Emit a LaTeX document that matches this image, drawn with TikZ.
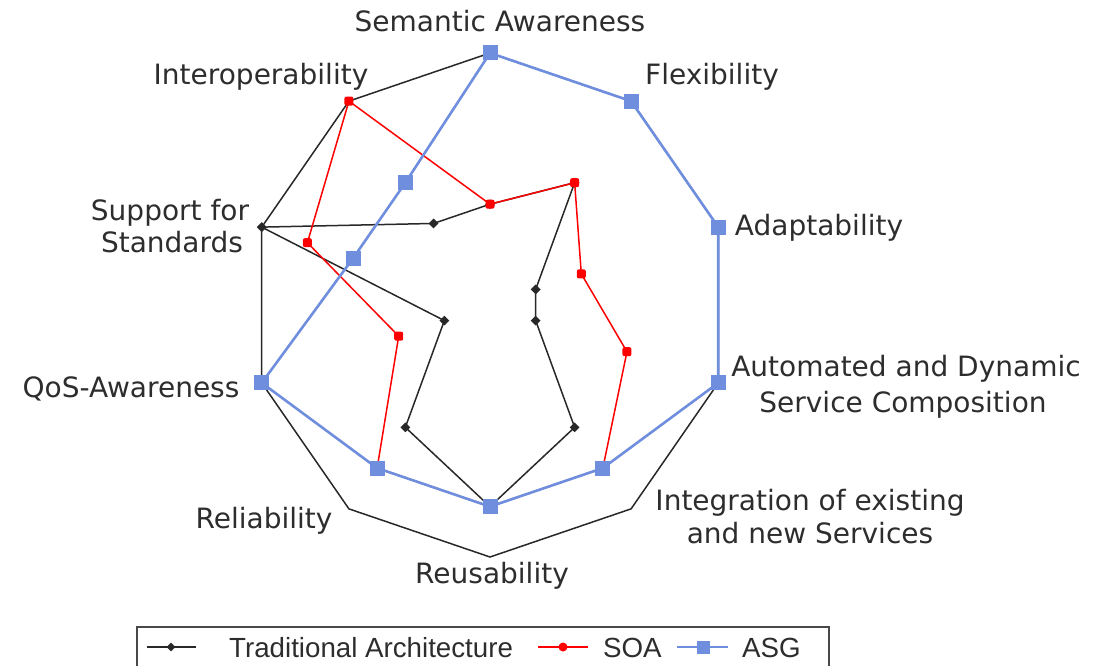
\documentclass[tikz,border=0pt]{standalone}
\usepackage{fontspec}
\setmainfont{DejaVu Sans}
\newfontfamily\legfont{Liberation Sans}
\usetikzlibrary{shapes.geometric}
\definecolor{txt}{RGB}{45,45,45}
\definecolor{asgblue}{RGB}{112,142,222}
\definecolor{soared}{RGB}{255,0,0}
\definecolor{trgray}{RGB}{40,40,40}
\begin{document}
\begin{tikzpicture}[x=1pt,y=-1pt,
 lab/.style={font=\fontsize{28}{34}\selectfont, text=txt, anchor=base, inner sep=0pt},
 leg/.style={font=\legfont\fontsize{27.7}{33}\selectfont, text=txt, anchor=base west, inner sep=0pt},
 frame/.style={draw=trgray, line width=1.5pt, line join=miter},
 trline/.style={draw=trgray, line width=1.5pt},
 soaline/.style={draw=soared, line width=1.5pt},
 asgline/.style={draw=asgblue, line width=2.6pt},
 trmark/.style={diamond, fill=trgray, inner sep=0pt, minimum width=10pt, minimum height=10pt},
 soamark/.style={rectangle, rounded corners=2pt, fill=soared, inner sep=0pt, minimum size=9pt},
 asgmark/.style={rectangle, fill=asgblue, inner sep=0pt, minimum size=15pt},
]
\useasboundingbox (0,0) rectangle (1097,666);
\def\cx{490}\def\cy{305}
% outer frame vertices
\foreach \k in {0,...,9}{
  \coordinate (F\k) at ({\cx+240*cos(90-36*\k)},{\cy-252*sin(90-36*\k)});
}
% series
\foreach \v [count=\k from 0] in {.4,.6,.2,.2,.6,.8,.6,.2,1,.4}{
  \coordinate (T\k) at ({\cx+\v*240*cos(90-36*\k)},{\cy-\v*252*sin(90-36*\k)});
}
\foreach \v [count=\k from 0] in {.4,.6,.4,.6,.8,.8,.8,.4,.8,1}{
  \coordinate (S\k) at ({\cx+\v*240*cos(90-36*\k)},{\cy-\v*252*sin(90-36*\k)});
}
\foreach \v [count=\k from 0] in {1,1,1,1,.8,.8,.8,1,.6,.6}{
  \coordinate (A\k) at ({\cx+\v*240*cos(90-36*\k)},{\cy-\v*252*sin(90-36*\k)});
}
\draw[frame] (F0) -- (F1) -- (F2) -- (F3) -- (F4) -- (F5) -- (F6) -- (F7) -- (F8) -- (F9) -- cycle;
\draw[trline] (T0) -- (T1) -- (T2) -- (T3) -- (T4) -- (T5) -- (T6) -- (T7) -- (T8) -- (T9) -- cycle;
\foreach \k in {0,...,9}{ \node[trmark] (TM\k) at (T\k) {}; }
\draw[soaline] (S0) -- (S1) -- (S2) -- (S3) -- (S4) -- (S5) -- (S6) -- (S7) -- (S8) -- (S9) -- cycle;
\foreach \k in {0,...,9}{ \node[soamark] (SM\k) at (S\k) {}; }
\draw[asgline] (A0) -- (A1) -- (A2) -- (A3) -- (A4) -- (A5) -- (A6) -- (A7) -- (A8) -- (A9) -- cycle;
\foreach \k in {0,...,9}{ \node[asgmark] (AM\k) at (A\k) {}; }
% labels
\node[lab] (lSA) at (500,32) {Semantic Awareness};
\node[lab] (lFl) at (712,85) {Flexibility};
\node[lab] (lIO) at (261,85) {Interoperability};
\node[lab] (lSS1) at (170,220) {Support for};
\node[lab] (lSS2) at (172,252) {Standards};
\node[lab] (lAd) at (819,235) {Adaptability};
\node[lab] (lQoS) at (131,397) {QoS-Awareness};
\node[lab] (lAu1) at (906,376) {Automated and Dynamic};
\node[lab] (lAu2) at (903,412) {Service Composition};
\node[lab] (lRl) at (264,528) {Reliability};
\node[lab] (lIn1) at (810,510) {Integration of existing};
\node[lab] (lIn2) at (810,543) {and new Services};
\node[lab] (lRu) at (492,583) {Reusability};
% legend
\draw[draw=trgray!85, line width=1.5pt] (137,627) rectangle (829,700);
\coordinate (lt1) at (147,647); \coordinate (lt2) at (196,647);
\draw[trline, line width=1.2pt] (lt1) -- (lt2);
\node[trmark, minimum width=9pt, minimum height=9pt] (ltm) at (171,647) {};
\node[leg] (ltt) at (229,657) {Traditional Architecture};
\coordinate (ls1) at (538,647); \coordinate (ls2) at (588,647);
\draw[soaline, line width=1.2pt] (ls1) -- (ls2);
\node[circle, fill=soared, inner sep=0pt, minimum size=9pt] (lsm) at (563,647) {};
\node[leg] (lst) at (603,657) {SOA};
\coordinate (la1) at (677,647); \coordinate (la2) at (728,647);
\draw[asgline, line width=2pt] (la1) -- (la2);
\node[asgmark, minimum size=13pt] (lam) at (703,647) {};
\node[leg] (lat) at (742,657) {ASG};
\end{tikzpicture}
\end{document}
